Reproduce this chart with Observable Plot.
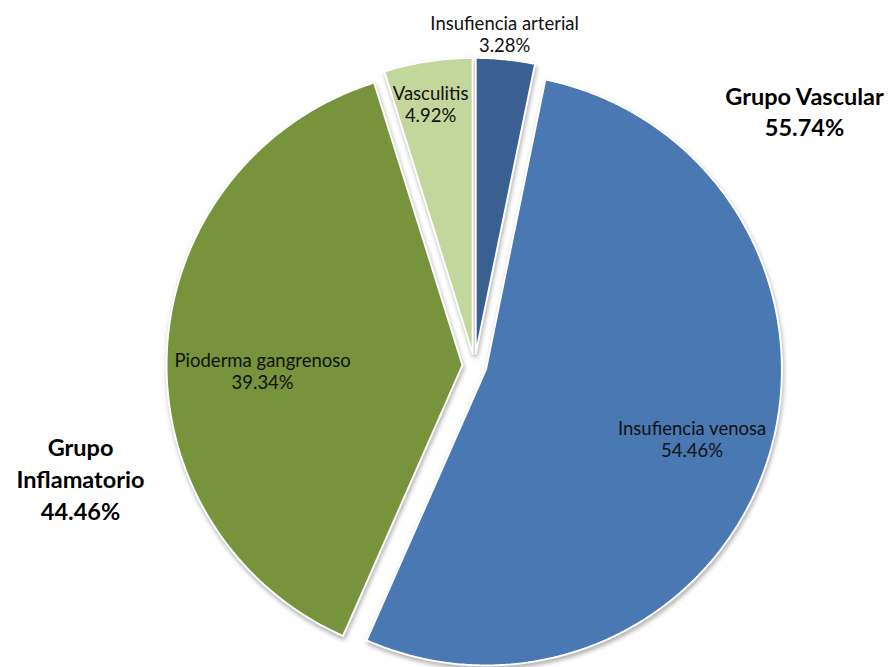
<!DOCTYPE html>
<html><head><meta charset="utf-8">
<script src="https://cdn.jsdelivr.net/npm/d3@7"></script>
<script src="https://cdn.jsdelivr.net/npm/@observablehq/plot@0.6"></script>
<style>body{margin:0;background:#fff} svg{display:block}</style>
</head><body><div id="chart"></div>
<script>
const categories = ["Insufiencia arterial", "Insufiencia venosa", "Pioderma gangrenoso", "Vasculitis"];
const values = [3.28, 54.46, 39.34, 4.92];
const valueLabels = ["3.28%", "54.46%", "39.34%", "4.92%"];
const colors = ["#3A6092", "#4A78B2", "#77933C", "#C3D69B"];
const groupNames = ["Grupo Vascular", "Grupo Inflamatorio"];
const groupValues = ["55.74%", "44.46%"];

// layout
const W = 893, H = 667;
const R = 296, cx = 474, cy = 365.3;
const explode = 12 / R;
const labelLayout = [
  {r: 1.126, dAng: -0.6},
  {r: 0.775, dAng: 0.8},
  {r: 0.716, dAng: -4.5},
  {r: 0.897, dAng: -0.84}
];

const total = d3.sum(values);
let acc = 0;
const slices = categories.map((c, i) => {
  const a0 = acc / total * 2 * Math.PI;
  acc += values[i];
  const a1 = acc / total * 2 * Math.PI;
  return {c, i, a0, a1, mid: (a0 + a1) / 2};
});

const pts = [];
for (const s of slices) {
  const ox = explode * Math.sin(s.mid), oy = explode * Math.cos(s.mid);
  pts.push({c: s.c, x: ox, y: oy});
  const n = Math.max(2, Math.ceil((s.a1 - s.a0) / (Math.PI / 360)));
  for (let k = 0; k <= n; k++) {
    const a = s.a0 + (s.a1 - s.a0) * k / n;
    pts.push({c: s.c, x: ox + Math.sin(a), y: oy + Math.cos(a)});
  }
  pts.push({c: s.c, x: ox, y: oy});
}

const labels = slices.map((s, i) => {
  const L = labelLayout[i];
  const a = s.mid + L.dAng * Math.PI / 180;
  return {text: categories[i] + "\n" + valueLabels[i], x: L.r * Math.sin(a), y: L.r * Math.cos(a)};
});

const chart = Plot.plot({
  width: W, height: H,
  margin: 0,
  x: {domain: [-cx / R, (W - cx) / R], axis: null},
  y: {domain: [-(H - cy) / R, cy / R], axis: null},
  color: {domain: categories, range: colors},
  style: {background: "#fff"},
  marks: [
    Plot.line(pts, {x: "x", y: "y", z: "c", fill: "c", stroke: "white", strokeWidth: 2, curve: "linear", strokeLinejoin: "miter"}),
    Plot.text(labels, {x: "x", y: "y", text: "text", fontFamily: "Lato", fontSize: 18.5, lineHeight: 1.2, lineAnchor: "middle", fill: "#111"}),
    Plot.text([groupNames[0] + "\n" + groupValues[0]], {frameAnchor: "top-left", dx: 804, dy: 110, text: d => d, textAnchor: "middle", lineAnchor: "middle", fontFamily: "Lato", fontWeight: "bold", fontSize: 23.5, lineHeight: 1.3, fill: "#000"}),
    Plot.text(["Grupo\nInflamatorio\n" + groupValues[1]], {frameAnchor: "top-left", dx: 80, dy: 477, text: d => d, textAnchor: "middle", lineAnchor: "middle", fontFamily: "Lato", fontWeight: "bold", fontSize: 23.5, lineHeight: 1.36, fill: "#000"})
  ]
});
chart.querySelectorAll('g[aria-label="line"]').forEach(g => g.style.filter = "drop-shadow(1px 3px 2px rgba(0,0,0,0.3))");
document.getElementById("chart").appendChild(chart);
</script>
</body></html>
